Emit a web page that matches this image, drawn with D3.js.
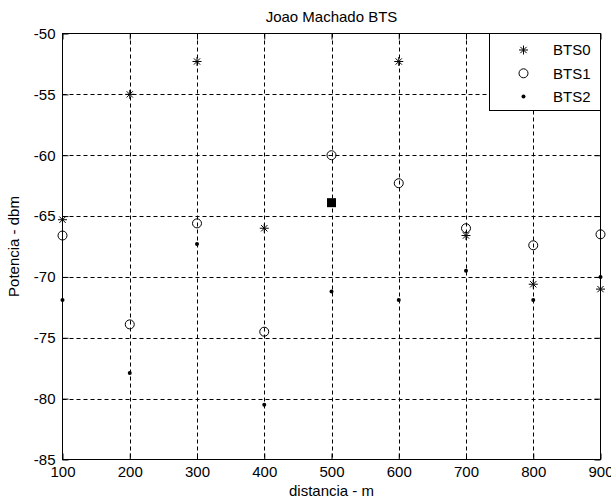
<!DOCTYPE html>
<meta charset="utf-8">
<script src="https://d3js.org/d3.v7.min.js"></script>
<style>
  body { margin: 0; background: #fff; }
  text { font-family: Arial, "Liberation Sans", sans-serif; fill: #000; }
</style>
<div id="my_dataviz"></div>
<script>
// data
var distancia = [100, 200, 300, 400, 500, 600, 700, 800, 900];
var bts0 = [-65.3, -55.0, -52.3, -66.0, null, -52.3, -66.6, -70.6, -71.0];
var bts1 = [-66.6, -73.9, -65.6, -74.5, -60.0, -62.3, -66.0, -67.4, -66.5];
var bts2 = [-71.9, -77.9, -67.3, -80.5, -71.2, -71.9, -69.5, -71.9, -70.0];
var destaque = [{x: 500, y: -63.9}];
var xTicks = [100, 200, 300, 400, 500, 600, 700, 800, 900];
var yTicks = [-85, -80, -75, -70, -65, -60, -55, -50];
var series = ["BTS0", "BTS1", "BTS2"];

var width = 611, height = 504;
var box = {left: 62.5, right: 600.5, top: 33.5, bottom: 459.5};

var svg = d3.select("#my_dataviz")
  .append("svg")
    .attr("width", width)
    .attr("height", height);

svg.append("rect")
  .attr("width", width).attr("height", height)
  .attr("fill", "#fff");

var x = d3.scaleLinear().domain([100, 900]).range([box.left, box.right]);
var y = d3.scaleLinear().domain([-85, -50]).range([box.bottom, box.top]);

// dotted grid
svg.append("g").selectAll("line")
  .data(xTicks.slice(1, -1))
  .enter().append("line")
    .attr("x1", function(d) { return Math.round(x(d)) + 0.5; })
    .attr("x2", function(d) { return Math.round(x(d)) + 0.5; })
    .attr("y1", box.top).attr("y2", box.bottom)
    .attr("stroke", "#000").attr("stroke-dasharray", "4,3");
svg.append("g").selectAll("line")
  .data(yTicks.slice(1, -1))
  .enter().append("line")
    .attr("y1", function(d) { return Math.round(y(d)) + 0.5; })
    .attr("y2", function(d) { return Math.round(y(d)) + 0.5; })
    .attr("x1", box.left).attr("x2", box.right)
    .attr("stroke", "#000").attr("stroke-dasharray", "4,3");

// axes with inward ticks
var xAxis = svg.append("g")
  .attr("transform", "translate(0," + box.bottom + ")")
  .call(d3.axisBottom(x).tickValues(xTicks).tickSize(-6).tickSizeOuter(0).tickPadding(7));
var yAxis = svg.append("g")
  .attr("transform", "translate(" + box.left + ",0)")
  .call(d3.axisLeft(y).tickValues(yTicks).tickSize(-6).tickSizeOuter(0).tickPadding(7));
svg.append("g")
  .attr("transform", "translate(0," + box.top + ")")
  .call(d3.axisTop(x).tickValues(xTicks).tickSize(-6).tickSizeOuter(0).tickFormat(""));
svg.append("g")
  .attr("transform", "translate(" + box.right + ",0)")
  .call(d3.axisRight(y).tickValues(yTicks).tickSize(-6).tickSizeOuter(0).tickFormat(""));
svg.selectAll(".domain").remove();
svg.selectAll(".tick line").attr("stroke", "#000");
svg.selectAll(".tick text").style("font-size", "15px").attr("fill", "#000");
yAxis.selectAll(".tick text").text(function(d) { return String(d); });

// frame
svg.append("rect")
  .attr("x", box.left).attr("y", box.top)
  .attr("width", box.right - box.left).attr("height", box.bottom - box.top)
  .attr("fill", "none").attr("stroke", "#000");

// markers
function asterisk(g, cx, cy, r) {
  g.append("path")
    .attr("d", "M" + (cx - r) + "," + cy + "H" + (cx + r) +
               "M" + cx + "," + (cy - r) + "V" + (cy + r) +
               "M" + (cx - r * 0.7) + "," + (cy - r * 0.7) + "L" + (cx + r * 0.7) + "," + (cy + r * 0.7) +
               "M" + (cx - r * 0.7) + "," + (cy + r * 0.7) + "L" + (cx + r * 0.7) + "," + (cy - r * 0.7))
    .attr("stroke", "#000").attr("fill", "none");
}

var marks = svg.append("g");
distancia.forEach(function(d, i) {
  if (bts0[i] != null) asterisk(marks, x(d), y(bts0[i]), 4.5);
});
marks.selectAll("circle.bts1")
  .data(distancia)
  .enter().append("circle")
    .attr("class", "bts1")
    .attr("cx", function(d) { return x(d); })
    .attr("cy", function(d, i) { return y(bts1[i]); })
    .attr("r", 4.5)
    .attr("fill", "none").attr("stroke", "#000");
marks.selectAll("circle.bts2")
  .data(distancia)
  .enter().append("circle")
    .attr("class", "bts2")
    .attr("cx", function(d) { return x(d); })
    .attr("cy", function(d, i) { return y(bts2[i]); })
    .attr("r", 2)
    .attr("fill", "#000");
marks.selectAll("rect.destaque")
  .data(destaque)
  .enter().append("rect")
    .attr("class", "destaque")
    .attr("x", function(d) { return x(d.x) - 4.5; })
    .attr("y", function(d) { return y(d.y) - 4.5; })
    .attr("width", 9).attr("height", 9)
    .attr("fill", "#000");

// title and axis labels
svg.append("text")
  .attr("x", (box.left + box.right) / 2).attr("y", 22)
  .attr("text-anchor", "middle").style("font-size", "15px")
  .text("Joao Machado BTS");
svg.append("text")
  .attr("x", (box.left + box.right) / 2).attr("y", 496)
  .attr("text-anchor", "middle").style("font-size", "15px")
  .text("distancia - m");
svg.append("text")
  .attr("transform", "translate(19," + ((box.top + box.bottom) / 2) + ") rotate(-90)")
  .attr("text-anchor", "middle").style("font-size", "15px")
  .text("Potencia - dbm");

// legend
var lg = svg.append("g");
lg.append("rect")
  .attr("x", 489.5).attr("y", box.top)
  .attr("width", box.right - 489.5).attr("height", 110.5 - box.top)
  .attr("fill", "#fff").attr("stroke", "#000");
series.forEach(function(s, i) {
  var cy = 50 + i * 23.3;
  if (i == 0) asterisk(lg, 523.5, cy, 4.5);
  if (i == 1) lg.append("circle").attr("cx", 523.5).attr("cy", cy).attr("r", 4.5)
                .attr("fill", "none").attr("stroke", "#000");
  if (i == 2) lg.append("circle").attr("cx", 523.5).attr("cy", cy).attr("r", 2).attr("fill", "#000");
  lg.append("text")
    .attr("x", 553).attr("y", cy).attr("dy", "0.35em")
    .style("font-size", "15px")
    .text(s);
});
</script>
